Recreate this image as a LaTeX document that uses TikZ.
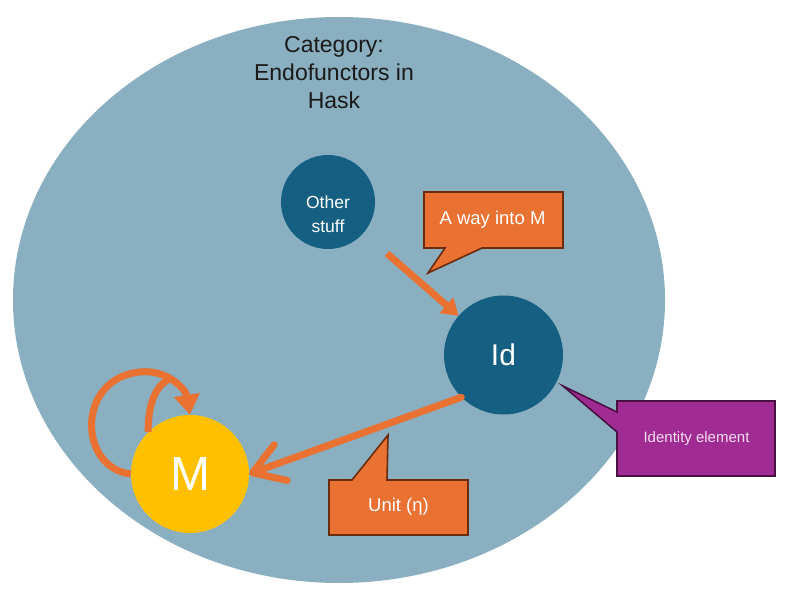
\documentclass[tikz,border=0pt]{standalone}
\usepackage{fontspec}
\setmainfont{Liberation Sans}
\usetikzlibrary{arrows.meta}
\definecolor{bgblue}{HTML}{8AAFC1}
\definecolor{darkteal}{HTML}{156082}
\definecolor{mgold}{HTML}{FFC000}
\definecolor{accorange}{HTML}{E97132}
\definecolor{orangeedge}{HTML}{6B2C0C}
\definecolor{accpurple}{HTML}{A02B93}
\definecolor{purpleedge}{HTML}{4A1043}
\definecolor{pinktext}{HTML}{F3DDF0}
\definecolor{titletext}{HTML}{1A1A1A}
\begin{document}
\begin{tikzpicture}[x=1pt,y=-1pt,
  objnode/.style={circle, fill=darkteal, inner sep=0pt, text=white},
  calloutorange/.style={fill=accorange, draw=orangeedge, line width=1.6pt, line join=miter},
  calloutpurple/.style={fill=accpurple, draw=purpleedge, line width=1.6pt, line join=miter},
  calltext/.style={text=white, font=\fontsize{18.5}{22}\selectfont},
  orangearrow/.style={draw=accorange, line width=7pt}
]
\useasboundingbox (0,0) rectangle (794,601);
% category ellipse
\fill[bgblue] (339,300) ellipse [x radius=326, y radius=283];
\node[text=titletext, align=center, font=\fontsize{23}{28}\selectfont] (title) at (334,73) {Category:\\Endofunctors in\\Hask};

% objects
\node[objnode, minimum size=94pt] (other) at (328,202) {};
\node[text=white, align=center, font=\fontsize{17.5}{24}\selectfont] (otherlbl) at (328,214) {Other\\stuff};
\node[objnode, minimum size=119pt, font=\fontsize{30}{34}\selectfont] (id) at (503.5,355) {Id};
\node[circle, fill=mgold, inner sep=0pt, minimum size=118pt, text=white, font=\fontsize{48}{52}\selectfont] (m) at (190,474) {M};

% arrows
\draw[orangearrow, -{Triangle[length=16pt,width=20pt]}, shorten <=31pt] (other) -- (id);
\draw[orangearrow, line cap=round, -{Straight Barb[length=30pt,width=38pt,line cap=round,line join=round]}] (id.225) -- (m.east);
\coordinate (merge) at (172,378);
\draw[orangearrow, -{Triangle[length=20pt,width=25pt]}]
  (m.west) .. controls (78,468) and (76,378) .. (140,372) .. controls (168,369) and (186,390) .. (m.north);
\draw[orangearrow] (m.135) .. controls (148,405) and (155,384) .. (merge);

% callouts
\draw[calloutorange] (424,192) -- (563,192) -- (563,248) -- (482,248) -- (428,273) -- (445,248) -- (424,248) -- cycle;
\node[calltext] (wayc) at (492.5,220) {A way into M};

\draw[calloutorange] (329,480) -- (352,480) -- (388,435) -- (387,480) -- (468,480) -- (468,535) -- (329,535) -- cycle;
\node[calltext] (unitc) at (398.5,507) {Unit (η)};

\draw[calloutpurple] (617,401) -- (775,401) -- (775,476) -- (617,476) -- (617,432) -- (563,386) -- (617,412) -- cycle;
\node[text=pinktext, font=\fontsize{15}{18}\selectfont] (identc) at (696.5,439) {Identity element};
\end{tikzpicture}
\end{document}
